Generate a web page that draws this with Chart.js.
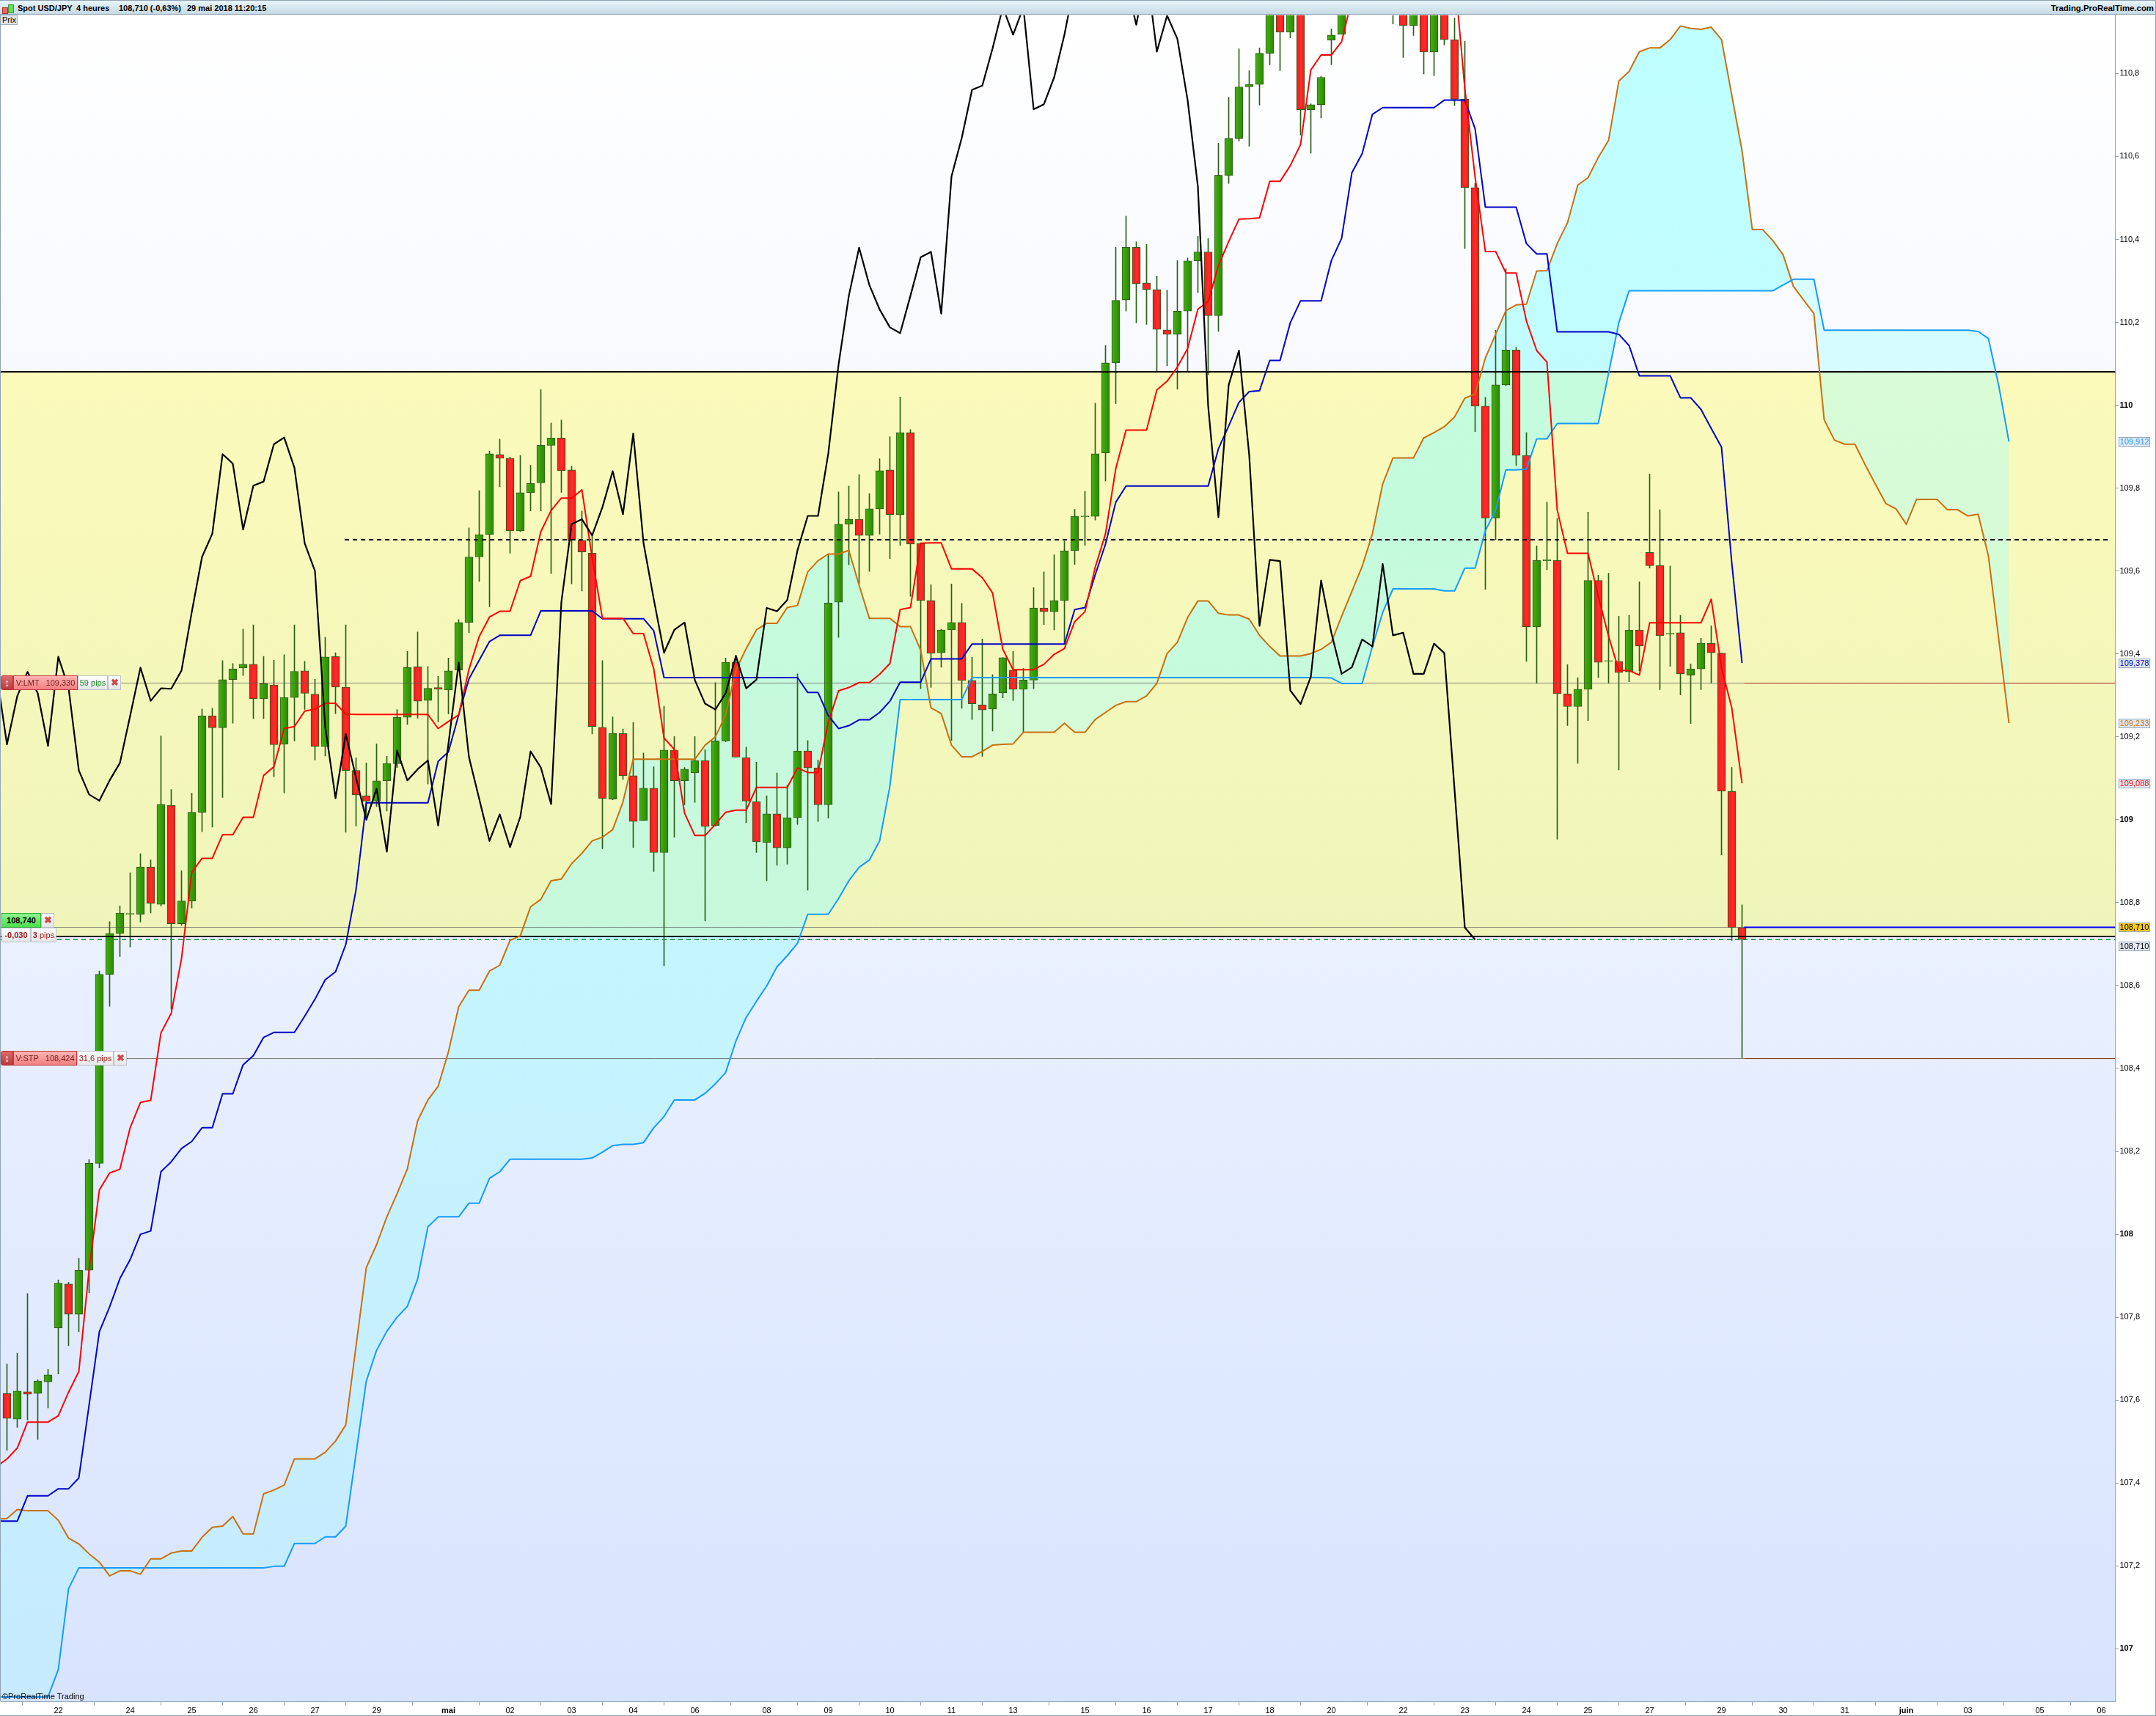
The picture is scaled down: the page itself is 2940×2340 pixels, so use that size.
<!DOCTYPE html>
<html>
<head>
<meta charset="utf-8">
<title>Spot USD/JPY</title>
<script src="https://cdn.jsdelivr.net/npm/chart.js@4/dist/chart.umd.min.js"></script>
<style>
    html, body { margin: 0; padding: 0; background: #fff; }
    body { position: relative; width: 2940px; height: 2340px; overflow: hidden; font: 11px "Liberation Sans", Arial, sans-serif; color: #000; }
    canvas { position: absolute; left: 0; top: 0; }
    .abs { position: absolute; white-space: nowrap; }
    #header { left: 0; top: 0; width: 2940px; height: 20px; box-sizing: border-box; border-top: 1px solid #8fa3b5; border-bottom: 1px solid #8fa3b5; background: linear-gradient(#e8f6fc, #c6d9e2); }
    #header span { position: absolute; top: 4px; font-weight: bold; font-size: 11px; line-height: 13px; }
    .ticket { height: 20px; box-sizing: border-box; line-height: 18px; text-align: center; border: 1px solid #b9c3cf; background: linear-gradient(#fff, #e6e6e6); font-size: 11px; }
    .pink { background: linear-gradient(#ffb4b4, #f08080); border: 1px solid #c23c3c; color: #7a1a1a; }
    .handle { background: linear-gradient(#e06a6a, #b83c3c); border: 1px solid #b33; color: #fff; font-weight: bold; font-size: 14px; border-radius: 3px 0 0 3px; }
    .cross { color: #d04848; font-weight: bold; font-size: 13px; line-height: 17px; }
    .tag { height: 13px; width: 43px; box-sizing: border-box; line-height: 11px; text-align: center; font-size: 11px; border: 1px solid #93a5b8; background: #e3e9f6; }
</style>
</head>
<body>
<canvas id="chart" width="2940" height="2340"></canvas>

<div id="header" class="abs">
    <div class="abs" style="left:3px;top:9px;width:6px;height:7px;background:#f06060;border:1px solid #a33;"></div>
    <div class="abs" style="left:11px;top:5px;width:6px;height:10px;background:#60e060;border:1px solid #393;"></div>
    <span style="left:24px;">Spot USD/JPY</span>
    <span style="left:104px;">4 heures</span>
    <span style="left:162px;">108,710 (-0,63%)</span>
    <span style="left:255px;">29 mai 2018 11:20:15</span>
    <span style="right:3px;font-size:11.4px;">Trading.ProRealTime.com</span>
</div>
<div class="abs" style="left:0;top:20px;width:24px;height:14px;box-sizing:border-box;background:#dfe4ea;border:1px solid #9fb0c0;line-height:12px;padding-left:2px;">Prix</div>
<div class="abs" style="left:0;top:20px;width:1px;height:2300px;background:#8fa3b5;"></div>
<div class="abs" style="left:2939px;top:0;width:1px;height:2340px;background:#8fa3b5;"></div>
<div class="abs" style="left:0;top:2339px;width:2940px;height:1px;background:#8fa3b5;"></div>
<div class="abs" style="left:3px;top:2307px;font-size:11px;">©ProRealTime Trading</div>

<!-- order tickets -->
<div class="abs ticket handle" style="left:1px;top:921px;width:17px;">↕</div>
<div class="abs ticket pink" style="left:18px;top:921px;width:88px;">V:LMT &nbsp; 109,330</div>
<div class="abs ticket" style="left:106px;top:921px;width:41px;color:#1a8a2a;">59 pips</div>
<div class="abs ticket cross" style="left:147px;top:921px;width:18px;">✖</div>

<div class="abs ticket handle" style="left:1px;top:1433px;width:17px;">↕</div>
<div class="abs ticket pink" style="left:18px;top:1433px;width:87px;">V:STP &nbsp; 108,424</div>
<div class="abs ticket" style="left:105px;top:1433px;width:50px;color:#a01818;">31,6 pips</div>
<div class="abs ticket cross" style="left:155px;top:1433px;width:18px;">✖</div>

<div class="abs ticket" style="left:2px;top:1245px;width:54px;background:linear-gradient(#8cf58c,#4ede4e);border-color:#35b035;font-weight:bold;">108,740</div>
<div class="abs ticket cross" style="left:56px;top:1245px;width:18px;">✖</div>
<div class="abs ticket" style="left:2px;top:1265px;width:40px;color:#a01818;font-weight:bold;">-0,030</div>
<div class="abs ticket" style="left:42px;top:1265px;width:35px;color:#a01818;"><b>3</b> pips</div>

<script>
// 4 hour candles, first one is index 0
const candleOpen = [
    107.616,107.554,107.620,107.616,107.644,107.774,107.880,107.807,107.913,108.171,
    108.627,108.726,108.772,108.772,108.886,108.796,109.035,108.749,108.804,109.018,
    109.251,109.222,109.338,109.366,109.375,109.292,109.325,109.182,109.295,109.359,
    109.303,109.177,109.394,109.320,109.119,109.058,109.045,109.094,109.135,109.247,
    109.369,109.288,109.319,109.313,109.361,109.476,109.634,109.688,109.881,109.872,
    109.697,109.789,109.813,109.903,109.921,109.844,109.674,109.643,109.223,109.050,
    109.208,109.106,108.998,109.076,108.921,109.168,109.094,109.113,109.143,108.986,
    109.190,109.380,109.150,109.044,108.945,109.014,108.932,109.005,109.166,109.125,
    109.036,109.525,109.713,109.725,109.686,109.750,109.844,109.736,109.934,109.666,
    109.529,109.403,109.458,109.476,109.336,109.277,109.267,109.306,109.361,109.315,
    109.337,109.511,109.502,109.529,109.649,109.731,109.732,109.885,110.102,110.254,
    110.381,110.295,110.279,110.182,110.171,110.227,110.348,110.370,110.216,110.554,
    110.644,110.768,110.774,110.849,111.000,110.900,111.030,110.713,110.725,110.881,
    110.895,111.000,111.050,111.020,111.060,111.030,111.000,110.916,111.000,110.852,
    110.980,110.882,110.738,110.525,109.998,109.728,110.049,110.133,109.879,109.465,
    109.625,109.626,109.304,109.273,109.315,109.577,109.382,109.382,109.357,109.458,
    109.645,109.613,109.448,109.451,109.349,109.364,109.426,109.402,109.068,108.740
];
const candleClose = [
    107.556,107.622,107.614,107.646,107.661,107.882,107.807,107.913,108.171,108.627,
    108.726,108.775,108.774,108.886,108.798,109.037,108.749,108.804,109.018,109.251,
    109.222,109.338,109.364,109.375,109.292,109.328,109.181,109.295,109.358,109.305,
    109.177,109.393,109.320,109.119,109.060,109.045,109.094,109.136,109.247,109.367,
    109.286,109.317,109.315,109.359,109.476,109.634,109.688,109.883,109.872,109.697,
    109.789,109.811,109.903,109.921,109.842,109.674,109.646,109.225,109.051,109.208,
    109.106,108.996,109.076,108.921,109.168,109.094,109.122,109.143,108.984,109.190,
    109.380,109.151,109.045,108.947,109.014,108.932,109.005,109.166,109.125,109.036,
    109.523,109.713,109.725,109.686,109.750,109.842,109.736,109.934,109.665,109.529,
    109.402,109.458,109.476,109.336,109.280,109.265,109.304,109.391,109.315,109.337,
    109.511,109.502,109.529,109.649,109.732,109.733,109.883,110.102,110.253,110.381,
    110.293,110.279,110.183,110.171,110.227,110.348,110.370,110.216,110.554,110.644,
    110.768,110.774,110.849,111.000,110.900,111.030,110.713,110.725,110.791,110.893,
    111.000,111.050,111.020,111.060,111.030,111.000,110.916,111.000,110.852,111.000,
    110.882,110.738,110.525,109.998,109.728,110.049,110.133,109.879,109.465,109.626,
    109.627,109.304,109.273,109.315,109.577,109.380,109.384,109.355,109.458,109.419,
    109.613,109.444,109.450,109.352,109.364,109.426,109.403,109.069,108.740,108.711
];
const candleHigh = [
    107.687,107.713,107.857,107.649,107.674,107.890,107.884,107.942,108.180,108.635,
    108.754,108.792,108.872,108.918,108.903,109.202,109.073,108.877,109.064,109.267,
    109.269,109.384,109.377,109.460,109.470,109.394,109.385,109.398,109.470,109.382,
    109.339,109.440,109.403,109.470,109.149,109.137,109.183,109.153,109.266,109.406,
    109.453,109.370,109.346,109.390,109.483,109.704,109.794,109.889,109.918,109.875,
    109.879,109.855,110.038,109.957,109.964,109.853,109.745,109.686,109.384,109.248,
    109.219,109.235,109.161,109.128,109.274,109.201,109.126,109.201,109.169,109.331,
    109.390,109.397,109.175,109.139,109.058,109.113,109.083,109.352,109.191,109.144,
    109.641,109.791,109.805,109.833,109.787,109.871,109.924,110.020,109.941,109.668,
    109.567,109.460,109.569,109.522,109.392,109.436,109.350,109.391,109.406,109.365,
    109.560,109.598,109.639,109.672,109.749,109.792,110.005,110.144,110.381,110.456,
    110.394,110.388,110.312,110.278,110.349,110.355,110.408,110.402,110.632,110.743,
    110.860,110.807,110.862,111.030,111.050,111.060,111.070,110.727,110.794,110.908,
    111.050,111.100,111.100,111.100,111.100,111.080,111.050,111.020,111.030,111.030,
    111.000,110.934,110.878,110.535,110.019,110.181,110.329,110.140,109.934,109.661,
    109.766,109.727,109.374,109.343,109.742,109.590,109.595,109.491,109.493,109.574,
    109.834,109.748,109.612,109.493,109.376,109.438,109.468,109.402,109.126,108.795
];
const candleLow = [
    107.479,107.534,107.552,107.505,107.581,107.663,107.731,107.765,107.859,108.160,
    108.550,108.670,108.693,108.753,108.775,108.792,108.543,108.745,108.787,108.971,
    108.982,109.054,109.233,109.348,109.244,109.244,109.104,109.065,109.190,109.266,
    109.144,109.154,109.256,108.970,108.985,109.010,109.032,109.021,109.126,109.230,
    109.245,109.086,109.236,109.255,109.358,109.451,109.575,109.514,109.803,109.643,
    109.695,109.745,109.745,109.594,109.790,109.569,109.552,109.207,108.930,109.048,
    109.097,108.933,108.998,108.875,108.648,108.958,109.036,109.042,108.756,108.985,
    109.188,109.151,108.993,108.921,108.853,108.890,108.893,108.989,108.830,108.996,
    109.004,109.440,109.615,109.570,109.599,109.689,109.630,109.662,109.539,109.316,
    109.319,109.368,109.191,109.269,109.242,109.153,109.214,109.294,109.288,109.212,
    109.316,109.471,109.458,109.424,109.616,109.662,109.723,109.817,110.004,110.227,
    110.199,110.195,110.080,110.095,110.039,110.080,110.272,110.074,110.178,110.535,
    110.637,110.625,110.724,110.821,110.807,110.886,110.652,110.608,110.693,110.821,
    110.895,110.960,110.970,110.980,110.970,110.920,110.839,110.892,110.799,110.795,
    110.869,110.723,110.378,109.936,109.556,109.676,110.047,109.855,109.382,109.329,
    109.603,108.953,109.227,109.136,109.239,109.343,109.329,109.120,109.333,109.359,
    109.607,109.314,109.370,109.301,109.232,109.314,109.329,108.915,108.709,108.426
];

// Ichimoku lines, these start one bar before the first candle (index -1)
const tenkan = [107.440,
    107.458,107.484,107.547,107.547,107.547,107.562,107.619,107.669,107.915,108.107,
    108.148,108.157,108.257,108.318,108.323,108.486,108.533,108.665,108.873,108.907,
    108.907,108.964,108.964,109.006,109.006,109.107,109.128,109.220,109.225,109.262,
    109.267,109.281,109.281,109.255,109.254,109.254,109.254,109.254,109.254,109.254,
    109.254,109.254,109.220,109.237,109.253,109.363,109.442,109.489,109.503,109.503,
    109.577,109.587,109.695,109.746,109.776,109.776,109.796,109.632,109.486,109.486,
    109.486,109.449,109.449,109.364,109.197,109.170,109.016,108.962,108.962,108.989,
    109.018,109.023,109.023,109.078,109.078,109.078,109.078,109.125,109.114,109.114,
    109.235,109.311,109.319,109.331,109.331,109.351,109.377,109.507,109.512,109.667,
    109.668,109.668,109.605,109.605,109.605,109.584,109.547,109.411,109.362,109.362,
    109.362,109.375,109.399,109.413,109.478,109.502,109.609,109.690,109.847,109.940,
    109.940,109.940,110.037,110.058,110.092,110.137,110.232,110.250,110.337,110.395,
    110.449,110.450,110.452,110.540,110.540,110.578,110.629,110.809,110.845,110.845,
    110.877,110.980,111.050,111.080,111.100,111.100,111.100,111.100,111.100,111.080,
    111.060,111.040,110.764,110.550,110.371,110.371,110.319,110.319,110.203,110.132,
    110.104,109.747,109.643,109.643,109.643,109.539,109.443,109.360,109.360,109.349,
    109.475,109.475,109.475,109.475,109.475,109.475,109.532,109.367,109.270,109.088
];
const kijun = [107.308,
    107.308,107.308,107.369,107.369,107.369,107.386,107.386,107.412,107.588,107.765,
    107.825,107.893,107.939,108.000,108.008,108.151,108.175,108.207,108.224,108.257,
    108.257,108.339,108.339,108.409,108.431,108.475,108.487,108.487,108.487,108.526,
    108.567,108.614,108.633,108.699,108.831,109.041,109.041,109.041,109.041,109.041,
    109.041,109.041,109.141,109.164,109.253,109.340,109.385,109.430,109.445,109.445,
    109.445,109.445,109.504,109.504,109.504,109.504,109.504,109.504,109.485,109.485,
    109.485,109.485,109.485,109.456,109.343,109.343,109.343,109.343,109.343,109.343,
    109.343,109.343,109.343,109.343,109.343,109.343,109.343,109.343,109.307,109.307,
    109.251,109.220,109.227,109.241,109.241,109.259,109.286,109.332,109.332,109.332,
    109.388,109.388,109.388,109.388,109.424,109.424,109.424,109.424,109.424,109.424,
    109.424,109.424,109.424,109.424,109.507,109.512,109.591,109.665,109.766,109.805,
    109.805,109.805,109.805,109.805,109.805,109.805,109.805,109.805,109.895,109.950,
    110.007,110.033,110.035,110.108,110.108,110.199,110.252,110.252,110.252,110.349,
    110.403,110.561,110.607,110.702,110.718,110.718,110.718,110.718,110.718,110.718,
    110.736,110.736,110.736,110.667,110.478,110.478,110.478,110.478,110.390,110.365,
    110.365,110.177,110.177,110.177,110.177,110.177,110.177,110.171,110.144,110.071,
    110.071,110.071,110.071,110.018,110.018,109.990,109.944,109.899,109.620,109.378
];
const senkouA = [107.313,
    107.314,107.336,107.333,107.333,107.333,107.310,107.267,107.253,107.229,107.209,
    107.176,107.188,107.188,107.180,107.217,107.217,107.231,107.236,107.236,107.269,
    107.293,107.296,107.319,107.277,107.277,107.374,107.383,107.395,107.458,107.458,
    107.458,107.474,107.501,107.540,107.730,107.920,107.975,108.042,108.098,108.158,
    108.274,108.324,108.357,108.440,108.549,108.589,108.589,108.635,108.649,108.709,
    108.720,108.790,108.808,108.853,108.857,108.894,108.919,108.949,108.958,108.976,
    109.043,109.146,109.146,109.146,109.146,109.146,109.146,109.146,109.180,109.200,
    109.253,109.361,109.413,109.458,109.474,109.474,109.512,109.517,109.598,109.625,
    109.641,109.641,109.650,109.566,109.486,109.486,109.486,109.466,109.466,109.409,
    109.270,109.256,109.180,109.152,109.152,109.165,109.180,109.182,109.183,109.211,
    109.211,109.211,109.211,109.233,109.211,109.211,109.242,109.259,109.276,109.285,
    109.285,109.299,109.329,109.401,109.428,109.488,109.528,109.528,109.498,109.494,
    109.494,109.484,109.445,109.418,109.395,109.395,109.395,109.401,109.411,109.428,
    109.491,109.551,109.611,109.690,109.810,109.873,109.873,109.873,109.921,109.934,
    109.948,109.972,110.017,110.027,110.114,110.171,110.228,110.242,110.244,110.324,
    110.325,110.390,110.440,110.531,110.549,110.598,110.639,110.782,110.805,110.853,
    110.862,110.862,110.882,110.915,110.909,110.907,110.912,110.882,110.748,110.614,
    110.424,110.424,110.397,110.363,110.287,110.254,110.221,109.965,109.916,109.906,
    109.906,109.856,109.809,109.763,109.750,109.713,109.773,109.773,109.773,109.748,
    109.748,109.733,109.737,109.636,109.437,109.233
];
const senkouB = [106.884,
    106.884,106.884,106.884,106.884,106.884,106.950,107.145,107.195,107.195,107.195,
    107.195,107.195,107.195,107.195,107.195,107.195,107.195,107.195,107.195,107.195,
    107.195,107.195,107.195,107.195,107.195,107.195,107.199,107.199,107.254,107.254,
    107.254,107.270,107.270,107.296,107.471,107.646,107.720,107.766,107.800,107.826,
    107.892,108.018,108.042,108.042,108.042,108.075,108.075,108.135,108.151,108.181,
    108.181,108.181,108.181,108.181,108.181,108.181,108.181,108.184,108.198,108.214,
    108.217,108.217,108.221,108.257,108.284,108.324,108.324,108.324,108.340,108.363,
    108.390,108.466,108.523,108.562,108.599,108.645,108.672,108.702,108.772,108.772,
    108.772,108.810,108.853,108.885,108.903,108.949,109.081,109.290,109.290,109.290,
    109.290,109.290,109.290,109.290,109.343,109.343,109.343,109.343,109.343,109.343,
    109.343,109.343,109.343,109.343,109.343,109.343,109.343,109.343,109.343,109.343,
    109.343,109.343,109.343,109.343,109.343,109.343,109.343,109.343,109.343,109.343,
    109.343,109.343,109.343,109.343,109.343,109.343,109.343,109.343,109.343,109.342,
    109.329,109.329,109.329,109.418,109.500,109.557,109.557,109.557,109.557,109.557,
    109.552,109.552,109.607,109.607,109.697,109.747,109.844,109.844,109.846,109.919,
    109.919,109.956,109.956,109.956,109.956,109.956,110.077,110.199,110.276,110.276,
    110.276,110.276,110.276,110.276,110.276,110.276,110.276,110.276,110.276,110.276,
    110.276,110.276,110.276,110.290,110.304,110.304,110.304,110.181,110.181,110.181,
    110.181,110.181,110.181,110.181,110.181,110.181,110.181,110.181,110.181,110.181,
    110.181,110.181,110.178,110.161,110.048,109.912
];
const chikou = [109.350,
    109.182,109.298,109.357,109.305,109.178,109.393,109.318,109.119,109.061,109.046,
    109.095,109.137,109.251,109.367,109.287,109.317,109.316,109.360,109.501,109.634,
    109.690,109.882,109.859,109.700,109.806,109.816,109.906,109.922,109.849,109.667,
    109.600,109.224,109.052,109.207,109.102,109.000,109.075,108.923,109.167,109.095,
    109.122,109.143,108.986,109.183,109.379,109.151,109.050,108.949,109.013,108.934,
    109.007,109.165,109.126,109.038,109.525,109.713,109.725,109.686,109.754,109.841,
    109.737,109.932,109.668,109.532,109.403,109.458,109.476,109.337,109.280,109.266,
    109.305,109.395,109.317,109.338,109.511,109.503,109.530,109.650,109.733,109.733,
    109.884,110.098,110.264,110.380,110.290,110.231,110.188,110.174,110.264,110.357,
    110.370,110.221,110.552,110.645,110.761,110.771,110.861,110.960,110.894,110.960,
    110.714,110.726,110.791,110.894,111.020,111.080,111.120,111.100,111.060,111.020,
    110.918,111.050,110.853,110.940,110.884,110.736,110.527,109.998,109.730,110.049,
    110.132,109.879,109.468,109.627,109.624,109.312,109.279,109.345,109.577,109.451,
    109.352,109.368,109.435,109.418,109.617,109.445,109.451,109.352,109.352,109.425,
    109.402,109.072,108.740,108.711
];

// Axis labels
const priceTicks = [107,107.2,107.4,107.6,107.8,108,108.2,108.4,108.6,108.8,109,109.2,109.4,109.6,109.8,110,110.2,110.4,110.6,110.8];
const dayTickBars = [5,12,18,24,30,36,43,49,55,61,67,74,80,86,92,98,105,111,117,123,129,136,142,148,154,160,167,173,179,185,191,198,204];
const dayTickLabels = ['22','24','25','26','27','29','mai','02','03','04','06','08','09','10','11','13','15','16','17','18','20','22','23','24','25','27','29','30','31','juin','03','05','06'];

// Horizontal levels and price tags on the right
const bandTop = 110.0807;
const bandBottom = 108.7184;
const midDashed = 109.6755;
const bidDashed = 108.711;
const limitLevel = 109.3297;
const stopLevel = 108.4238;
const entryLevel = 108.7405;
const lastBar = 169.2;
const tagValues = [109.912, 109.378, 109.233, 109.088, 108.740, 108.695];
const tagTexts = ['109,912', '109,378', '109,233', '109,088', '108,710', '108,710'];
const tagColors = ['#1e9bff', '#0000c8', '#c87010', '#ff0000', '#000000', '#000000'];
const tagFills = ['#e3e9f6', '#e3e9f6', '#e3e9f6', '#e3e9f6', '#ffc81e', '#e3e9f6'];

// 14 px per bar, so bars land on whole pixels
const xMin = -0.60714, xMax = 205.35714;
const yMin = 106.872, yMax = 110.941;
const fontName = '"Liberation Sans", Arial, sans-serif';
const axisColor = '#8fa3b5';

const canvasCtx = document.getElementById('chart').getContext('2d');

function seriesPoints(values) {
    return values.map((v, k) => ({ x: k - 1, y: v }));
}

function lineSet(values, color, width, order) {
    return {
        type: 'line', data: seriesPoints(values), borderColor: color, borderWidth: width,
        pointRadius: 0, tension: 0, fill: false, order: order, borderJoinStyle: 'round'
    };
}

// Flat level between two bars
function levelSet(value, from, to, color, width, dash, order) {
    return {
        type: 'line', data: [{ x: from, y: value }, { x: to, y: value }], borderColor: color,
        borderWidth: width, borderDash: dash || [], pointRadius: 0, fill: false, order: order
    };
}

function candleFill(ctx) {
    if (ctx.dataIndex === undefined) return '#2f8f0a';
    const up = candleClose[ctx.dataIndex] >= candleOpen[ctx.dataIndex];
    const px = ctx.chart.scales.x.getPixelForValue(ctx.dataIndex);
    // scale has no pixels yet on the very first pass
    if (!Number.isFinite(px)) return up ? '#2f8f0a' : '#ff2020';
    const g = ctx.chart.ctx.createLinearGradient(px - 5.5, 0, px + 5.5, 0);
    if (up) {
        g.addColorStop(0, '#44b212');
        g.addColorStop(1, '#2c8606');
    } else {
        g.addColorStop(0, '#ee1c1c');
        g.addColorStop(0.6, '#ff2c2c');
        g.addColorStop(1, '#f01818');
    }
    return g;
}

// Cloud gets paler and bluer towards the bottom of the page
const cloudAbove = canvasCtx.createLinearGradient(0, 20, 0, 2320);
cloudAbove.addColorStop(0, 'rgba(127,255,255,0.5)');
cloudAbove.addColorStop(0.43, 'rgba(155,253,254,0.5)');
cloudAbove.addColorStop(1, 'rgba(180,240,255,0.5)');

// Page background and the yellow band, behind everything
const backgroundPlugin = {
    id: 'chartBackground',
    beforeDraw(chart) {
        const c = chart.ctx, a = chart.chartArea, y = chart.scales.y;
        const bg = c.createLinearGradient(0, a.top, 0, a.bottom);
        bg.addColorStop(0, '#ffffff');
        bg.addColorStop(1, '#d8e4fe');
        c.fillStyle = bg;
        c.fillRect(a.left, a.top, a.right - a.left, a.bottom - a.top);
        const top = y.getPixelForValue(bandTop), bottom = y.getPixelForValue(bandBottom);
        const band = c.createLinearGradient(0, top, 0, bottom);
        band.addColorStop(0, '#fbfabb');
        band.addColorStop(1, '#eff5ba');
        c.fillStyle = band;
        c.fillRect(a.left, top, a.right - a.left, bottom - top);
    }
};

const chart = new Chart(canvasCtx, {
    type: 'bar',
    plugins: [backgroundPlugin],
    data: {
        datasets: [
            Object.assign(lineSet(senkouA, '#c8700f', 2, 4), {
                fill: { target: 1, above: cloudAbove, below: 'rgba(170,255,255,0.42)' }
            }),
            lineSet(senkouB, '#149bff', 2, 4),
            {
                label: 'wicks', data: candleHigh.map((h, i) => ({ x: i, y: [candleLow[i], h] })),
                backgroundColor: '#2a5f14', barThickness: 1, grouped: false, order: 11
            },
            {
                label: 'bodies', data: candleOpen.map((o, i) => ({ x: i, y: [o, candleClose[i]] })),
                backgroundColor: candleFill, borderColor: '#2e5c16', borderWidth: 1, borderSkipped: false,
                barThickness: 11, grouped: false, order: 10
            },
            lineSet(tenkan, '#ff0000', 2, 2),
            lineSet(kijun, '#0000c8', 2, 3),
            lineSet(chikou, '#000000', 2.2, 1),
            levelSet(bandTop, xMin, xMax, '#000000', 2, null, 5),
            levelSet(bandBottom, xMin, xMax, '#000000', 2, null, 5),
            levelSet(midDashed, 32.9, 204.9, '#000000', 2, [6, 5], 5),
            levelSet(bidDashed, xMin, xMax, '#109040', 1.5, [6, 5], 5),
            levelSet(limitLevel, xMin, lastBar, 'rgba(90,90,90,0.7)', 1, null, 6),
            levelSet(limitLevel, lastBar, xMax, '#a02020', 1, null, 6),
            levelSet(stopLevel, xMin, lastBar, 'rgba(90,90,90,0.8)', 1, null, 6),
            levelSet(stopLevel, lastBar, xMax, '#8a2a20', 1, null, 6),
            levelSet(entryLevel, xMin, lastBar, 'rgba(90,90,90,0.7)', 1, null, 6),
            levelSet(entryLevel, lastBar, xMax, '#0000ff', 2, null, 5)
        ]
    },
    options: {
        responsive: false,
        animation: false,
        layout: { padding: { left: 1, top: 20.7, right: 0, bottom: 0 } },
        plugins: {
            legend: { display: false },
            tooltip: { enabled: false },
            filler: { drawTime: 'beforeDatasetsDraw', propagate: false }
        },
        scales: {
            x: {
                type: 'linear', offset: false, min: xMin, max: xMax,
                grid: { drawOnChartArea: false, tickLength: 5, tickColor: axisColor },
                border: { color: axisColor },
                afterBuildTicks: (scale) => { scale.ticks = dayTickBars.map(v => ({ value: v })); },
                afterFit: (scale) => { scale.height = 19.3; },
                ticks: {
                    autoSkip: false, maxRotation: 0, padding: 1, color: '#000',
                    callback: (value) => dayTickLabels[dayTickBars.indexOf(value)],
                    font: (ctx) => ({
                        family: fontName, size: 11,
                        weight: isNaN(dayTickLabels[dayTickBars.indexOf(ctx.tick && ctx.tick.value)]) ? 'bold' : 'normal'
                    })
                }
            },
            y: {
                position: 'right', min: yMin, max: yMax,
                grid: { drawOnChartArea: false, tickLength: 5, tickColor: axisColor },
                border: { color: axisColor },
                afterBuildTicks: (scale) => { scale.ticks = priceTicks.map(v => ({ value: v })); },
                afterFit: (scale) => { scale.width = 55.5; },
                ticks: {
                    autoSkip: false, padding: 1, color: '#000', crossAlign: 'near',
                    callback: (value) => Number.isInteger(value) ? String(value) : value.toFixed(1).replace('.', ','),
                    font: (ctx) => ({
                        family: fontName, size: 11,
                        weight: ctx.tick && Number.isInteger(ctx.tick.value) ? 'bold' : 'normal'
                    })
                }
            }
        }
    }
});

// Price tags next to the axis, placed with the y scale
tagValues.forEach((value, i) => {
    const top = chart.scales.y.getPixelForValue(value);
    const tag = document.createElement('div');
    tag.className = 'abs tag';
    tag.style.cssText = `left:2889px;top:${Math.round(top - 6.5)}px;color:${tagColors[i]};background:${tagFills[i]};`;
    tag.textContent = tagTexts[i];
    document.body.appendChild(tag);
});
</script>
</body>
</html>
